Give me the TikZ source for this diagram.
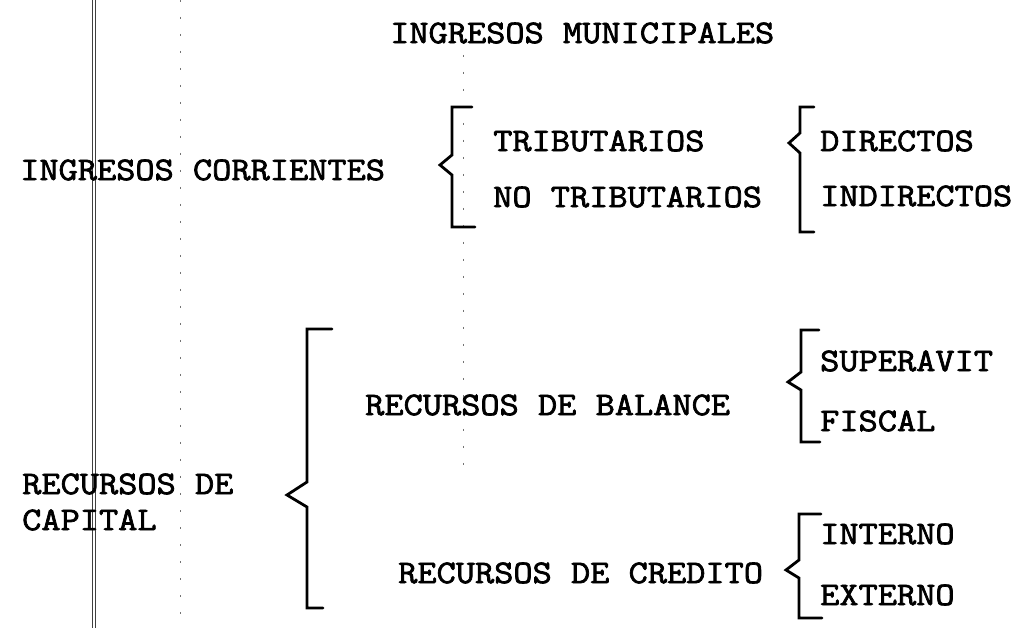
\documentclass[tikz,border=0pt]{standalone}
\usepackage{fontspec}
\newfontfamily\tw[FakeBold=2.2,FakeStretch=1.13]{Latin Modern Mono}
\tikzset{
  lbl/.style={anchor=west, inner sep=0pt, font=\tw\fontsize{33}{34}\selectfont},
  brace/.style={line width=2.8pt, line join=miter, line cap=round},
  scanline/.style={black!75, line width=1pt},
  scandots/.style={black!55, line width=1pt, dash pattern=on 2pt off 15pt}
}
\begin{document}
\begin{tikzpicture}[x=1pt,y=-1pt]
\useasboundingbox (0,0) rectangle (1021,628);
\fill[white] (0,0) rectangle (1021,628);
% scan artefacts
\draw[scanline] (92,0) -- (92,628);
\draw[scanline, line width=0.8pt] (95.5,0) -- (95.5,628);
\draw[scandots] (180,0) -- (180,628);
\draw[scandots] (463,55) -- (463,470);
% texts
\node[lbl] (title) at (390,33) {INGRESOS MUNICIPALES};
\node[lbl] (corr) at (20,170) {INGRESOS CORRIENTES};
\node[lbl] (trib) at (493,141) {TRIBUTARIOS};
\node[lbl] (notrib) at (493,197) {NO TRIBUTARIOS};
\node[lbl] (dir) at (820,141) {DIRECTOS};
\node[lbl] (indir) at (820,196) {INDIRECTOS};
\node[lbl] (cap1) at (22,484) {RECURSOS DE};
\node[lbl] (cap2) at (22,520) {CAPITAL};
\node[lbl] (bal) at (365,405) {RECURSOS DE BALANCE};
\node[lbl] (sup) at (820,361) {SUPERAVIT};
\node[lbl] (fis) at (820,421) {FISCAL};
\node[lbl] (cred) at (398,573) {RECURSOS DE CREDITO};
\node[lbl] (int) at (820,534) {INTERNO};
\node[lbl] (ext) at (820,595) {EXTERNO};
% braces
\draw[brace] (472,107) -- (452,107) -- (452,155) -- (440,165) -- (452,175) -- (452,227) -- (475,227);
\draw[brace] (814,107) -- (800,107) -- (800,133) -- (789,143) -- (800,153) -- (800,232) -- (814,232);
\draw[brace] (332,329) -- (307,329) -- (307,482) -- (287,495) -- (307,507) -- (307,608) -- (323,608);
\draw[brace] (819,330) -- (801,330) -- (801,372) -- (788,382) -- (801,390) -- (801,442) -- (820,442);
\draw[brace] (821,514) -- (799,514) -- (799,560) -- (786,570) -- (799,578) -- (799,618) -- (822,618);
\end{tikzpicture}
\end{document}
